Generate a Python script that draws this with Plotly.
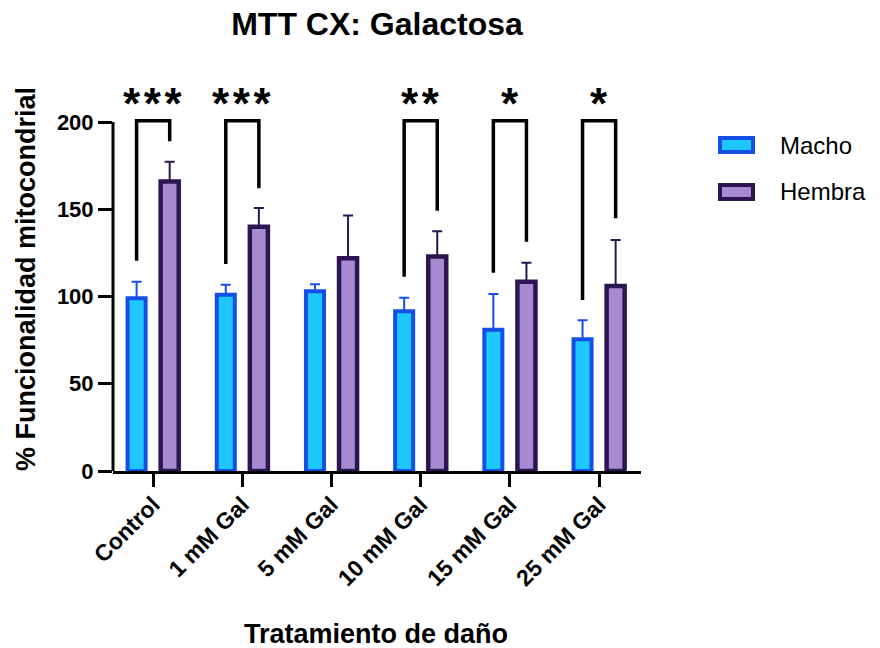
import plotly.graph_objects as go

# ---- data ----
categories = ["Control", "1 mM Gal", "5 mM Gal", "10 mM Gal", "15 mM Gal", "25 mM Gal"]
macho_mean = [99, 101, 103, 91.5, 81, 75.5]
macho_sd = [9.5, 5.8, 4.0, 7.8, 20.4, 10.9]
hembra_mean = [166, 140, 122, 123, 108.5, 106]
hembra_sd = [11.2, 10.7, 24.5, 14.4, 10.9, 26.4]

# significance brackets (Macho vs Hembra per treatment)
sig_labels = ["***", "***", "", "**", "*", "*"]
bracket_top = [200.7, 200.7, None, 200.7, 200.7, 200.7]
bracket_left_end = [120.5, 118.6, None, 111.4, 113.6, 98.0]
bracket_right_end = [189.0, 162.0, None, 149.2, 131.4, 144.8]
sig_label_y = 210.5

y_ticks = [0, 50, 100, 150, 200]

# ---- styling ----
FONT = "Liberation Sans, Arial, sans-serif"
MACHO_FILL, MACHO_EDGE = "#1ec8ff", "#1450e6"
HEMBRA_FILL, HEMBRA_EDGE = "#a68bd3", "#2c1652"
BARGAP, BARGROUPGAP = 0.258, 0.455

# plot-area geometry in pixels (used for legend placement in paper units)
W, H = 880, 648
M_L, M_R, M_T, M_B = 113, 239, 61, 177
PW, PH = W - M_L - M_R, H - M_T - M_B


def px_x(px):
    return (px - M_L) / PW


def px_y(py):
    return (H - M_B - py) / PH


fig = go.Figure()

fig.add_trace(go.Bar(
    x=categories, y=macho_mean, name="Macho",
    marker=dict(color=MACHO_FILL, line=dict(color=MACHO_EDGE, width=4)),
    error_y=dict(type="data", symmetric=False, array=macho_sd,
                 arrayminus=[0] * len(macho_sd),
                 color=MACHO_EDGE, thickness=2, width=5),
))
fig.add_trace(go.Bar(
    x=categories, y=hembra_mean, name="Hembra",
    marker=dict(color=HEMBRA_FILL, line=dict(color=HEMBRA_EDGE, width=4.5)),
    error_y=dict(type="data", symmetric=False, array=hembra_sd,
                 arrayminus=[0] * len(hembra_sd),
                 color=HEMBRA_EDGE, thickness=2, width=5),
))

shapes = []
annotations = []

# brackets and stars, legs centred on each bar of the pair
half = (1 - BARGAP) / 4
for i, lab in enumerate(sig_labels):
    if not lab:
        continue
    xl, xr = i - half, i + half
    shapes.append(dict(
        type="path", xref="x", yref="y",
        path=(f"M {xl},{bracket_left_end[i]} L {xl},{bracket_top[i]} "
              f"L {xr},{bracket_top[i]} L {xr},{bracket_right_end[i]}"),
        line=dict(color="black", width=3.5),
    ))
    annotations.append(dict(
        x=i, y=sig_label_y, xref="x", yref="y",
        text="\u200a".join(lab), showarrow=False,
        xanchor="center", yanchor="middle",
        font=dict(family=FONT, size=44, color="black", weight="bold"),
    ))

# y axis line running only from 0 to 200
shapes.append(dict(type="line", xref="x domain", yref="y", x0=0, x1=0,
                   y0=0, y1=200, line=dict(color="black", width=3)))

# legend swatches
for name, fill, edge, cy in [("Macho", MACHO_FILL, MACHO_EDGE, 145),
                             ("Hembra", HEMBRA_FILL, HEMBRA_EDGE, 192)]:
    shapes.append(dict(type="rect", xref="paper", yref="paper",
                       x0=px_x(720), x1=px_x(753), y0=px_y(cy + 7), y1=px_y(cy - 7),
                       fillcolor=fill, line=dict(color=edge, width=4)))
    annotations.append(dict(x=px_x(778), y=px_y(cy), xref="paper", yref="paper",
                            text=name, showarrow=False, xanchor="left", yanchor="middle",
                            font=dict(family=FONT, size=24, color="black")))

# axis titles
annotations.append(dict(x=px_x(26), y=px_y(279), xref="paper", yref="paper",
                        text="% Funcionalidad mitocondrial", textangle=-90, showarrow=False,
                        xanchor="center", yanchor="middle",
                        font=dict(family=FONT, size=27, color="black", weight="bold")))
annotations.append(dict(x=px_x(376), y=px_y(634), xref="paper", yref="paper",
                        text="Tratamiento de daño", showarrow=False,
                        xanchor="center", yanchor="middle",
                        font=dict(family=FONT, size=27, color="black", weight="bold")))

fig.update_layout(
    width=W, height=H, autosize=False,
    margin=dict(l=M_L, r=M_R, t=M_T, b=M_B, pad=0),
    plot_bgcolor="white", paper_bgcolor="white",
    barmode="group", bargap=BARGAP, bargroupgap=BARGROUPGAP,
    showlegend=False,
    title=dict(text="<b>MTT CX: Galactosa</b>", x=0.5, xref="paper", xanchor="center",
               y=1 - 24 / H, yref="container", yanchor="middle",
               font=dict(family=FONT, size=32, color="black")),
    shapes=shapes, annotations=annotations,
    font=dict(family=FONT, color="black"),
)

fig.update_xaxes(
    type="category", range=[-0.45, 5.47],
    showline=True, linecolor="black", linewidth=3,
    ticks="outside", ticklen=13, tickwidth=3, tickcolor="black",
    tickangle=-45, showgrid=False, zeroline=False, ticklabelstandoff=-5,
    tickfont=dict(family=FONT, size=23, color="black", weight="bold"),
)
fig.update_yaxes(
    range=[0, 235], tickvals=y_ticks, ticktext=[str(v) for v in y_ticks],
    showline=False, ticks="outside", ticklen=14, tickwidth=3, tickcolor="black",
    showgrid=False, zeroline=False,
    tickfont=dict(family=FONT, size=22, color="black", weight="bold"),
)

fig.write_html("out.html")
